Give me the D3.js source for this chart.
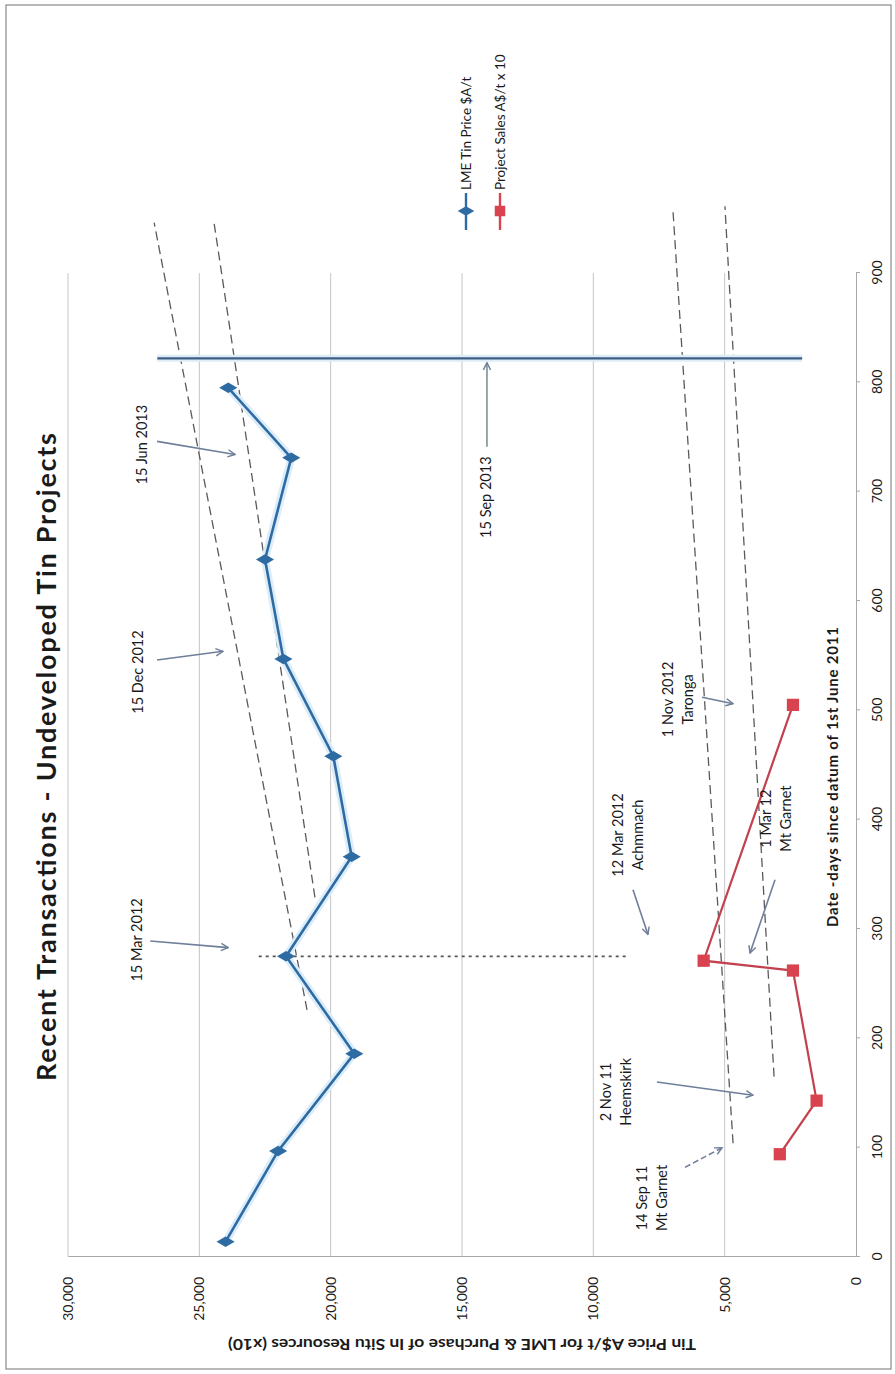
<!DOCTYPE html>
<html>
<head>
<meta charset="utf-8">
<script src="https://cdn.jsdelivr.net/npm/d3@7"></script>
<style>
  body { margin: 0; background: #fff; }
  svg { display: block; }
  text { font-family: Lato, "Liberation Sans", sans-serif; fill: #1a1a1a; }
</style>
</head>
<body>
<div id="chart"></div>
<script>
// LME tin price (A$/t) by days since 1 June 2011
const lmeDays = [14, 97, 186, 275, 366, 458, 547, 638, 731, 795];
const lmePrice = [24000, 22000, 19100, 21700, 19200, 19900, 21800, 22500, 21500, 23900];

// project sales A$/t x 10
const saleDays = [94, 143, 262, 271, 505];
const saleValues = [2900, 1500, 2400, 5800, 2400];

// dashed trend lines [day, value] start / end
const trendStart = [[226, 20900], [329, 20600], [104, 4680], [165, 3120]];
const trendEnd = [[946, 26720], [946, 24440], [958, 6970], [961, 4990]];

// reference lines
const sepLineDay = 822, sepLineFrom = 2050, sepLineTo = 26600;
const marLineDay = 275, marLineFrom = 8680, marLineTo = 22740;

const xTicks = [0, 100, 200, 300, 400, 500, 600, 700, 800, 900];
const yTicks = [0, 5000, 10000, 15000, 20000, 25000, 30000];

// annotations
const noteText = [["15 Mar 2012"], ["15 Dec 2012"], ["15 Jun 2013"], ["15 Sep 2013"],
  ["12 Mar 2012", "Achmmach"], ["1 Mar 12", "Mt Garnet"], ["1 Nov 2012", "Taronga"],
  ["2 Nov 11", "Heemskirk"], ["14 Sep 11", "Mt Garnet"]];
const noteDay = [290, 535, 743, 695, 386, 401, 510, 151, 54];
const noteValue = [27370, 27330, 27180, 14090, 9060, 3430, 7160, 9520, 8150];
const arrowFrom = [[289, 26870], [546, 26610], [746, 26610], [741, 14050], [336, 8490],
  [345, 3083], [512, 5860], [160, 7580], [82, 6510]];
const arrowTo = [[283, 23900], [554, 24100], [734, 23640], [818, 14050], [295, 7920],
  [278, 4035], [506, 4680], [148, 3920], [100, 5100]];

// the chart is laid out landscape and then turned a quarter to the left
const W = 1374, H = 895;

const svg = d3.select('#chart').append('svg')
  .attr('width', H)
  .attr('height', W);

const defs = svg.append('defs');
defs.append('marker')
  .attr('id', 'arrow')
  .attr('viewBox', '0 0 10 10')
  .attr('refX', 9).attr('refY', 5)
  .attr('markerWidth', 9).attr('markerHeight', 9)
  .attr('markerUnits', 'userSpaceOnUse')
  .attr('orient', 'auto')
  .append('path')
  .attr('d', 'M1,1 L9,5 L1,9')
  .attr('fill', 'none')
  .attr('stroke', '#6f7f99')
  .attr('stroke-width', 1.6);

const g = svg.append('g').attr('transform', `translate(0,${W}) rotate(-90)`);

// page frame
g.append('rect')
  .attr('x', 5).attr('y', 6)
  .attr('width', W - 10).attr('height', H - 10)
  .attr('fill', 'none')
  .attr('stroke', '#8a8a8a')
  .attr('stroke-width', 1.2);

const x = d3.scaleLinear().domain([0, 900]).range([117, 1101]);
const y = d3.scaleLinear().domain([0, 30000]).range([856, 68]);

// gridlines
g.append('g')
  .selectAll('line')
  .data(yTicks.filter(d => d > 0))
  .enter()
  .append('line')
  .attr('x1', x(0)).attr('x2', x(900))
  .attr('y1', d => y(d)).attr('y2', d => y(d))
  .attr('stroke', '#c4c4c4')
  .attr('stroke-width', 1);

// axes
const xAxis = g.append('g')
  .attr('transform', `translate(0,${y(0)})`)
  .call(d3.axisBottom(x).tickValues(xTicks).tickSize(4).tickPadding(12));
const yAxis = g.append('g')
  .attr('transform', `translate(${x(0)},0)`)
  .call(d3.axisLeft(y).tickValues(yTicks).tickSize(0).tickPadding(20).tickFormat(d3.format(',')));

[xAxis, yAxis].forEach(a => {
  a.select('.domain').attr('stroke', '#a8a8a8');
  a.selectAll('.tick line').attr('stroke', '#a8a8a8');
  a.selectAll('text')
    .style('font-family', 'Lato, sans-serif')
    .style('font-size', '14px')
    .attr('fill', '#1a1a1a');
});

// axis titles
g.append('text')
  .attr('x', 597).attr('y', 838)
  .attr('text-anchor', 'middle')
  .attr('font-weight', 'bold')
  .attr('font-size', '15px')
  .attr('textLength', 300)
  .text('Date -days since datum of 1st June 2011');

g.append('text')
  .attr('transform', `translate(35,462) rotate(-90)`)
  .attr('text-anchor', 'middle')
  .attr('font-weight', 'bold')
  .attr('font-size', '14.5px')
  .attr('textLength', 468)
  .attr('lengthAdjust', 'spacingAndGlyphs')
  .text('Tin Price A$/t for LME & Purchase of In Situ Resources (x10)');

// title
g.append('text')
  .attr('x', 617).attr('y', 56)
  .attr('text-anchor', 'middle')
  .attr('font-weight', 'bold')
  .attr('font-size', '27px')
  .attr('textLength', 648)
  .text('Recent Transactions - Undeveloped Tin Projects');

// trend lines
const line = d3.line().x(d => x(d[0])).y(d => y(d[1]));
g.append('g')
  .selectAll('path')
  .data(trendStart.map((s, i) => [s, trendEnd[i]]))
  .enter()
  .append('path')
  .attr('d', line)
  .attr('fill', 'none')
  .attr('stroke', '#5a5a5a')
  .attr('stroke-width', 1.3)
  .attr('stroke-dasharray', '9,5');

// 15 Mar 2012 dotted line
g.append('line')
  .attr('x1', x(marLineDay)).attr('x2', x(marLineDay))
  .attr('y1', y(marLineTo)).attr('y2', y(marLineFrom))
  .attr('stroke', '#555')
  .attr('stroke-width', 1.6)
  .attr('stroke-dasharray', '3,4');

// 15 Sep 2013 line
g.append('line')
  .attr('x1', x(sepLineDay)).attr('x2', x(sepLineDay))
  .attr('y1', y(sepLineTo)).attr('y2', y(sepLineFrom))
  .attr('stroke', '#dcedf9')
  .attr('stroke-width', 7);
g.append('line')
  .attr('x1', x(sepLineDay)).attr('x2', x(sepLineDay))
  .attr('y1', y(sepLineTo)).attr('y2', y(sepLineFrom))
  .attr('stroke', '#3d5f85')
  .attr('stroke-width', 2.2);

// LME series
const lmePts = lmeDays.map((d, i) => [d, lmePrice[i]]);
g.append('path')
  .attr('d', line(lmePts))
  .attr('fill', 'none')
  .attr('stroke', '#dcedf9')
  .attr('stroke-width', 8)
  .attr('stroke-linejoin', 'round');
g.append('path')
  .attr('d', line(lmePts))
  .attr('fill', 'none')
  .attr('stroke', '#2e6ba3')
  .attr('stroke-width', 2.6);
g.selectAll('.lme')
  .data(lmePts)
  .enter()
  .append('path')
  .attr('class', 'lme')
  .attr('transform', d => `translate(${x(d[0])},${y(d[1])})`)
  .attr('d', d3.symbol(d3.symbolDiamond).size(95))
  .attr('fill', '#2e6ba3');

// project sales series
const salePts = saleDays.map((d, i) => [d, saleValues[i]]);
g.append('path')
  .attr('d', line(salePts))
  .attr('fill', 'none')
  .attr('stroke', '#c2414e')
  .attr('stroke-width', 2.2);
g.selectAll('.sale')
  .data(salePts)
  .enter()
  .append('path')
  .attr('class', 'sale')
  .attr('transform', d => `translate(${x(d[0])},${y(d[1])})`)
  .attr('d', d3.symbol(d3.symbolSquare).size(150))
  .attr('fill', '#d8434f');

// annotation arrows
g.append('g')
  .selectAll('line')
  .data(arrowFrom.map((f, i) => [f, arrowTo[i]]))
  .enter()
  .append('line')
  .attr('x1', d => x(d[0][0])).attr('y1', d => y(d[0][1]))
  .attr('x2', d => x(d[1][0])).attr('y2', d => y(d[1][1]))
  .attr('stroke', (d, i) => i === 3 ? '#7d9190' : '#6f7f99')
  .attr('stroke-width', 1.6)
  .attr('stroke-dasharray', (d, i) => i === 8 ? '6,3' : null)
  .attr('marker-end', 'url(#arrow)');

// annotation labels
const notes = g.append('g')
  .selectAll('text')
  .data(noteText)
  .enter()
  .append('text')
  .attr('x', (d, i) => x(noteDay[i]))
  .attr('y', (d, i) => y(noteValue[i]))
  .attr('text-anchor', 'middle')
  .attr('font-size', '14.5px');
notes.selectAll('tspan')
  .data(d => d)
  .enter()
  .append('tspan')
  .attr('x', function () { return d3.select(this.parentNode).attr('x'); })
  .attr('dy', (d, i) => i === 0 ? '0.35em' : '20px')
  .text(d => d);

// legend
const legendItems = ['LME Tin Price $A/t', 'Project Sales A$/t x 10'];
const legendColors = ['#2e6ba3', '#d8434f'];
const legendSymbols = [d3.symbolDiamond, d3.symbolSquare];
const legend = g.append('g')
  .selectAll('g')
  .data(legendItems)
  .enter()
  .append('g')
  .attr('transform', (d, i) => `translate(1144,${466 + i * 34})`);
legend.append('line')
  .attr('x1', 0).attr('x2', 37)
  .attr('stroke', (d, i) => legendColors[i])
  .attr('stroke-width', 2.4);
legend.append('path')
  .attr('transform', 'translate(19,0)')
  .attr('d', (d, i) => d3.symbol(legendSymbols[i]).size(i ? 110 : 80)())
  .attr('fill', (d, i) => legendColors[i]);
legend.append('text')
  .attr('x', 40)
  .attr('y', 5)
  .attr('font-size', '13.5px')
  .text(d => d);
</script>
</body>
</html>
